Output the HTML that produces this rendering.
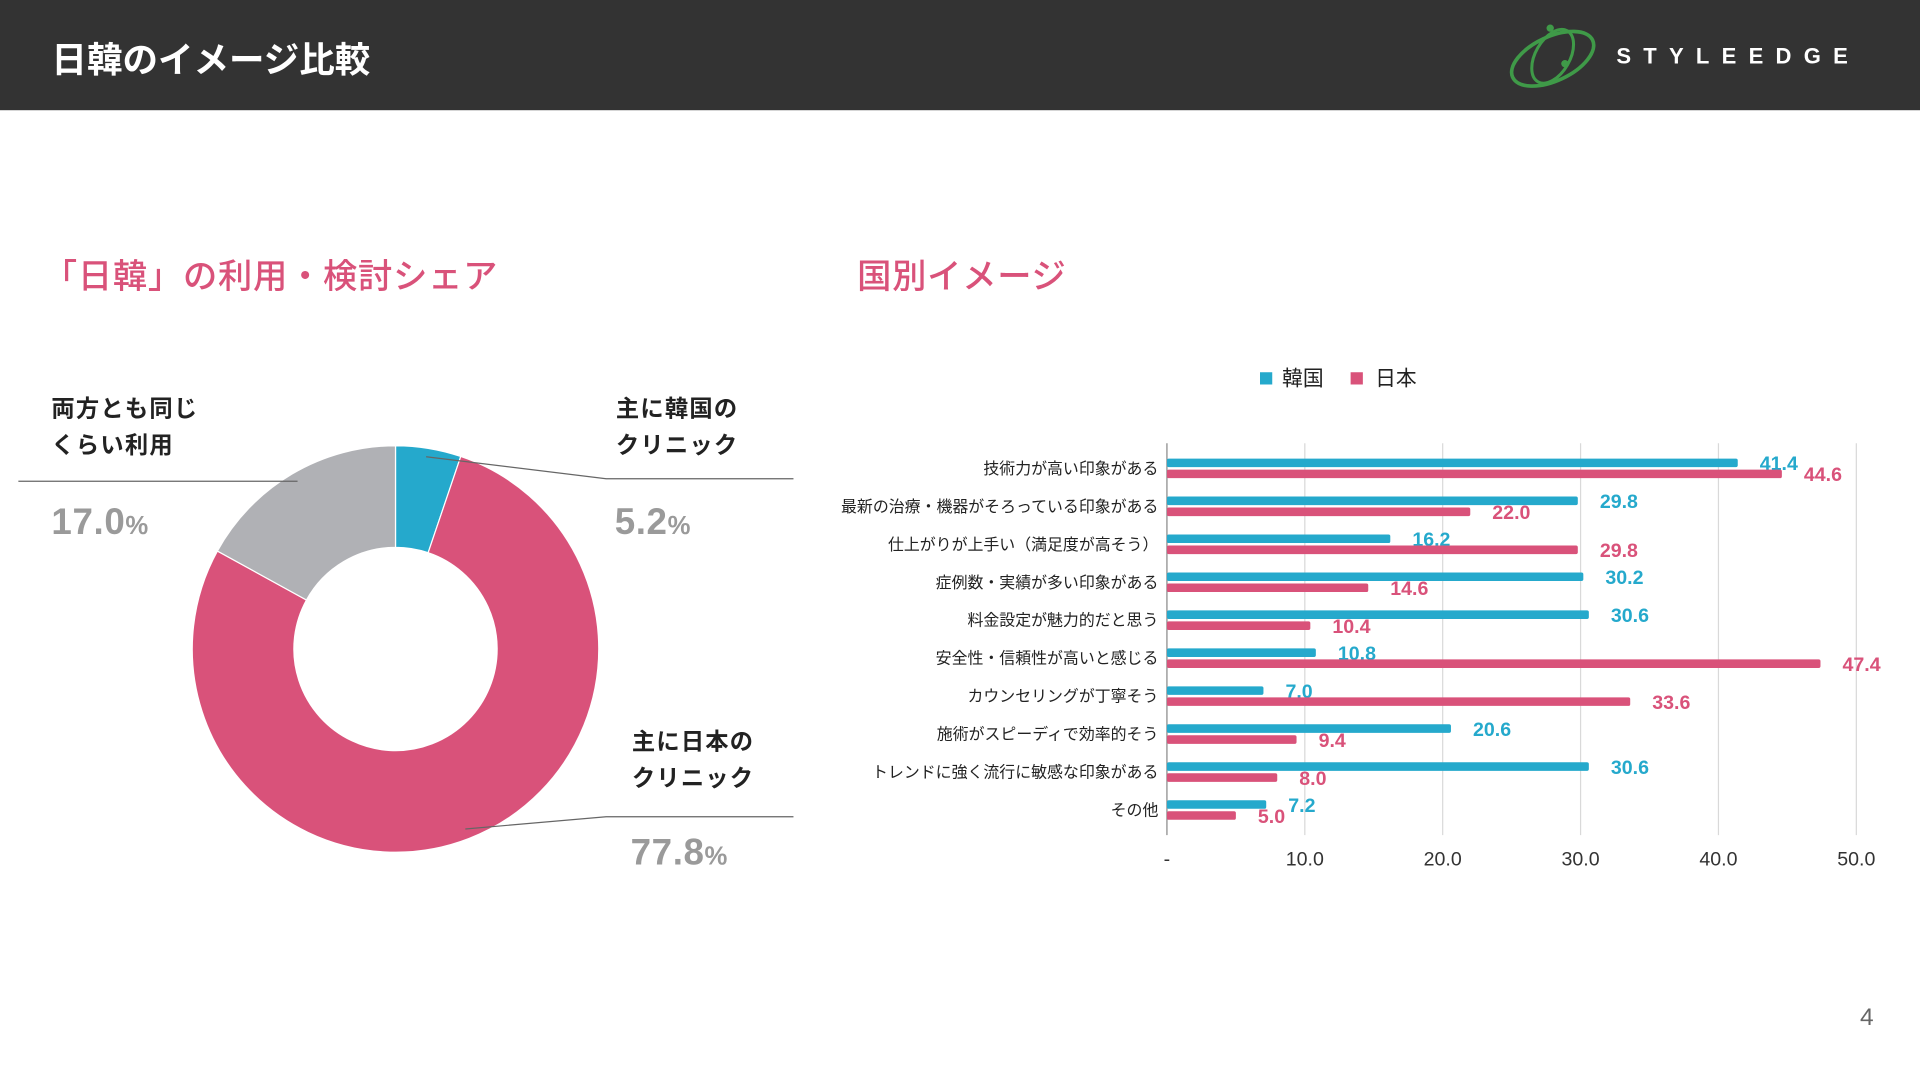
<!DOCTYPE html>
<html><head><meta charset="utf-8"><style>
body{margin:0;width:1920px;height:1080px;overflow:hidden;background:#fff;font-family:"Liberation Sans","Noto Sans CJK JP",sans-serif}
#wrap{position:absolute;left:0;top:0;width:1568px;height:882px;transform:scale(1.22449);transform-origin:0 0}
.abs{position:absolute;white-space:nowrap}
.hdr{left:0;top:0;width:1568px;height:90px;background:#333}
.lbl{font-weight:bold;font-size:19px;line-height:30px;color:#222;letter-spacing:1px}
.pct{font-weight:bold;font-size:30px;color:#9a9a9a;letter-spacing:0.5px}
.pct small{font-size:21px}
.sec{font-size:28px;color:#d9527a;font-weight:500;letter-spacing:0.6px}
</style></head><body>
<div id="wrap">
<div class="abs hdr"></div>
<div class="abs" style="left:42px;top:26px;font-size:29px;color:#fff;font-weight:bold">日韓のイメージ比較</div>
<svg class="abs" style="left:1228px;top:18px" width="82" height="56">
<ellipse cx="40" cy="30" rx="36" ry="18" fill="none" stroke="#3f9a48" stroke-width="3" transform="rotate(-25 40 30)"/>
<ellipse cx="40" cy="28" rx="14" ry="24" fill="none" stroke="#3f9a48" stroke-width="2.5" transform="rotate(30 40 28)"/>
<circle cx="38" cy="5" r="3" fill="#3f9a48"/><circle cx="50" cy="34" r="3" fill="#3f9a48"/>
</svg>
<div class="abs" style="left:1320px;top:36px;font-size:18px;color:#fff;font-weight:bold;letter-spacing:10px">STYLEEDGE</div>

<div class="abs sec" style="left:35px;top:204px">「日韓」の利用・検討シェア</div>
<div class="abs sec" style="left:700px;top:204px">国別イメージ</div>

<svg class="abs" style="left:0;top:0" width="1568" height="882" id="donut"></svg>

<div class="abs lbl" style="left:42px;top:320px">両方とも同じ<br>くらい利用</div>
<div class="abs pct" style="left:42px;top:410px">17.0<small>%</small></div>
<div class="abs lbl" style="left:503px;top:320px">主に韓国の<br>クリニック</div>
<div class="abs pct" style="left:502px;top:410px">5.2<small>%</small></div>
<div class="abs lbl" style="left:516px;top:592px">主に日本の<br>クリニック</div>
<div class="abs pct" style="left:515px;top:680px">77.8<small>%</small></div>

<svg class="abs" style="left:0;top:0" width="1568" height="882" id="bars"></svg>
<div class="abs" style="left:1519px;top:820px;font-size:20px;color:#666">4</div>
</div>
<script>
const shareLabels=["主に韓国","主に日本","両方"];
const shareValues=[5.2,77.8,17.0];
const shareColors=["#25a9cc","#d9527a","#b0b1b5"];
const categories=["技術力が高い印象がある","最新の治療・機器がそろっている印象がある","仕上がりが上手い（満足度が高そう）","症例数・実績が多い印象がある","料金設定が魅力的だと思う","安全性・信頼性が高いと感じる","カウンセリングが丁寧そう","施術がスピーディで効率的そう","トレンドに強く流行に敏感な印象がある","その他"];
const korea=[41.4,29.8,16.2,30.2,30.6,10.8,7.0,20.6,30.6,7.2];
const japan=[44.6,22.0,29.8,14.6,10.4,47.4,33.6,9.4,8.0,5.0];
const ticks=["-","10.0","20.0","30.0","40.0","50.0"];
(function(){
const NS="http://www.w3.org/2000/svg";
function mk(p,t,a){const e=document.createElementNS(NS,t);for(const k in a)e.setAttribute(k,a[k]);p.appendChild(e);return e;}
const d=document.getElementById('donut');
const cx=323,cy=530,R=166,r=83;let ang=0;const tot=shareValues.reduce((a,b)=>a+b,0);
shareValues.forEach((v,i)=>{const a0=ang,a1=ang+v/tot*2*Math.PI;ang=a1;
const p=(a,rr)=>[cx+rr*Math.sin(a),cy-rr*Math.cos(a)];const lg=(a1-a0)>Math.PI?1:0;
const [x0,y0]=p(a0,R),[x1,y1]=p(a1,R),[x2,y2]=p(a1,r),[x3,y3]=p(a0,r);
const s=mk(d,'path',{d:`M${x0} ${y0}A${R} ${R} 0 ${lg} 1 ${x1} ${y1}L${x2} ${y2}A${r} ${r} 0 ${lg} 0 ${x3} ${y3}Z`,fill:shareColors[i],stroke:'#fff','stroke-width':1});

});
["M15 393L243 393","M348 373L495 391L648 391","M380 677L495 667L648 667"].forEach(l=>{const e=mk(d,'path',{d:l,stroke:'#666','stroke-width':1,fill:'none'});

});
const b=document.getElementById('bars');
const X0=953,X1=1516,MAX=50,yTop=362,yBot=682,rowH=31,firstC=382;
const xs=v=>X0+v/MAX*(X1-X0);
ticks.forEach((t,i)=>{const x=xs(i*10);
if(i>0){const g=mk(b,'line',{x1:x,x2:x,y1:yTop,y2:yBot,stroke:'#d9d9d9','stroke-width':1});}
const tx=mk(b,'text',{x:x,y:707,'text-anchor':'middle','font-size':16,fill:'#333'});tx.textContent=t;

});
const ax=mk(b,'line',{x1:X0,x2:X0,y1:yTop,y2:yBot,stroke:'#888','stroke-width':1});


categories.forEach((c,i)=>{const yc=firstC+i*rowH;
const t=mk(b,'text',{x:946,y:yc+5,'text-anchor':'end','font-size':13,fill:'#222'});t.textContent=c;


[[korea,'#25a9cc',-4],[japan,'#d9527a',5]].forEach(([arr,col,off],j)=>{const y=yc+off;
const bar=mk(b,'rect',{x:X0,y:y-3.5,width:xs(arr[i])-X0,height:7,fill:col,rx:1.5});


const v=mk(b,'text',{x:xs(arr[i])+18,y:y+6,'font-size':16,'font-weight':'bold',fill:col});v.textContent=arr[i].toFixed(1);

});});
[[1029,'#25a9cc','韓国',1047],[1103,'#d9527a','日本',1123]].forEach(([x,c,t,tx])=>{
const s=mk(b,'rect',{x:x,y:304,width:10,height:10,fill:c});
const e=mk(b,'text',{x:tx,y:315,'font-size':17,fill:'#222'});e.textContent=t;

});
})();
</script>
</body></html>
